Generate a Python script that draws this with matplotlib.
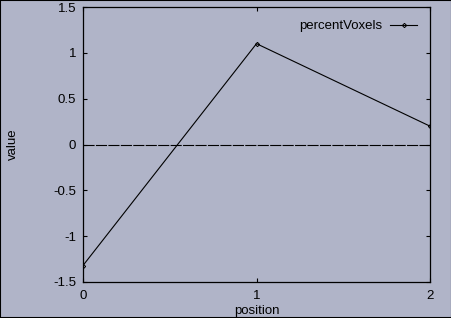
import matplotlib
matplotlib.use("Agg")
import matplotlib.pyplot as plt
from matplotlib.patches import Rectangle

positions = [0, 1, 2]
percent_voxels = [-1.32, 1.1, 0.2]
x_ticks = [0, 1, 2]
y_ticks = [-1.5, -1, -0.5, 0, 0.5, 1, 1.5]
y_tick_labels = ["-1.5", "-1", "-0.5", "0", "0.5", "1", "1.5"]

bg = "#b0b4c8"
plt.rcParams["font.family"] = ["Liberation Sans", "DejaVu Sans"]
plt.rcParams["font.size"] = 9.5

fig = plt.figure(figsize=(4.52, 3.18), dpi=100, facecolor=bg)
ax = fig.add_axes([83/452, 36/318, 347/452, 275/318])
ax.set_facecolor(bg)

ax.plot(positions, percent_voxels, color="black", lw=0.8, marker="D",
        markersize=2.2, markerfacecolor="none", markeredgewidth=0.7,
        label="percentVoxels")
zl = ax.axhline(0, color="black", lw=0.8)
zl.set_dashes([10, 1.2])

ax.set_xlim(0, 2)
ax.set_ylim(-1.5, 1.5)
ax.set_xticks(x_ticks)
ax.set_xticklabels([str(v) for v in x_ticks])
ax.set_yticks(y_ticks)
ax.set_yticklabels(y_tick_labels)
ax.tick_params(direction="in", length=3, width=0.8, top=True, right=True,
               colors="black")
ax.tick_params(axis="y", pad=5)
ax.tick_params(axis="x", pad=6)
for s in ax.spines.values():
    s.set_linewidth(0.9)
    s.set_color("black")

ax.set_xlabel("position", labelpad=2)
ax.set_ylabel("value")
ax.yaxis.set_label_coords((19 - 83) / 347, 0.5)

leg = ax.legend(loc="upper right", frameon=False, markerfirst=False,
                handlelength=2.0, handletextpad=0.6, borderaxespad=0.6,
                numpoints=1)

fig.patches.append(Rectangle((0, 0), 1, 1, transform=fig.transFigure,
                             fill=False, edgecolor="black", lw=1.5))

fig.savefig("out.png", dpi=100, facecolor=bg)
